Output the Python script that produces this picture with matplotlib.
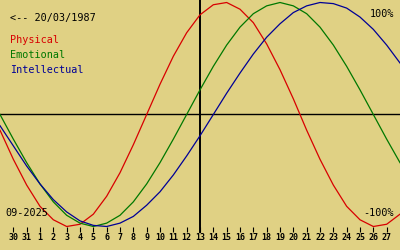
import matplotlib
matplotlib.use("Agg")
import matplotlib.pyplot as plt

# Biorritmo - dias alrededor del 13/09/2025 (desplazamiento 0 = dia 13)
dias = list(range(-15, 16))
etiquetas_dias = ["30", "31"] + [str(d) for d in range(1, 28)]
pos_etiquetas = list(range(-14, 15))

fisico = [-0.14, -0.40, -0.63, -0.82, -0.94, -1.00, -0.98, -0.89, -0.73, -0.52,
          -0.27, 0.00, 0.27, 0.52, 0.73, 0.89, 0.98, 1.00, 0.94, 0.82,
          0.63, 0.40, 0.14, -0.14, -0.40, -0.63, -0.82, -0.94, -1.00, -0.98, -0.89]
emocional = [0.00, -0.22, -0.43, -0.62, -0.78, -0.90, -0.97, -1.00, -0.97, -0.90,
             -0.78, -0.62, -0.43, -0.22, 0.00, 0.22, 0.43, 0.62, 0.78, 0.90,
             0.97, 1.00, 0.97, 0.90, 0.78, 0.62, 0.43, 0.22, 0.00, -0.22, -0.43]
intelectual = [-0.10, -0.28, -0.46, -0.62, -0.76, -0.87, -0.95, -0.99, -1.00, -0.97,
               -0.91, -0.81, -0.69, -0.54, -0.37, -0.19, 0.00, 0.19, 0.37, 0.54,
               0.69, 0.81, 0.91, 0.97, 1.00, 0.99, 0.95, 0.87, 0.76, 0.62, 0.46]

fondo = "#E0D184"
rojo = "#D80000"
verde = "#007800"
azul = "#000096"

fig = plt.figure(figsize=(4, 2.5), dpi=100, facecolor=fondo)
ax = fig.add_axes([0, 23 / 250, 1, 227 / 250])
ax.set_facecolor(fondo)
ax.set_xlim(-15, 15)
ax.set_ylim(-1.0045, 1.0223)
for s in ax.spines.values():
    s.set_visible(False)

ax.axhline(0, color="black", lw=1.0)
ax.axvline(0, color="black", lw=1.4, ymin=-0.02, ymax=1, clip_on=False)

ax.plot(dias, fisico, color=rojo, lw=0.9, clip_on=False)
ax.plot(dias, emocional, color=verde, lw=0.9, clip_on=False)
ax.plot(dias, intelectual, color=azul, lw=0.9, clip_on=False)

ax.set_yticks([])
ax.set_xticks(pos_etiquetas)
ax.set_xticklabels(etiquetas_dias, family="DejaVu Sans Mono", fontweight="bold", fontsize=6)
ax.tick_params(axis="x", direction="out", length=3.4, width=0.8, pad=1.0, colors="black")

mono = "DejaVu Sans Mono"
def texto(x, y, s, color="black", ha="left"):
    fig.text(x / 400, 1 - y / 250, s, color=color, ha=ha, va="baseline",
             family=mono, fontsize=7.3)

texto(10, 21, "<-- 20/03/1987")
texto(10, 43, "Physical", rojo)
texto(10, 58, "Emotional", verde)
texto(10, 73, "Intellectual", azul)
texto(394, 16.5, "100%", ha="right")
texto(394, 216, "-100%", ha="right")
texto(5, 216, "09-2025")

fig.savefig("out.png", dpi=100, facecolor=fondo)
